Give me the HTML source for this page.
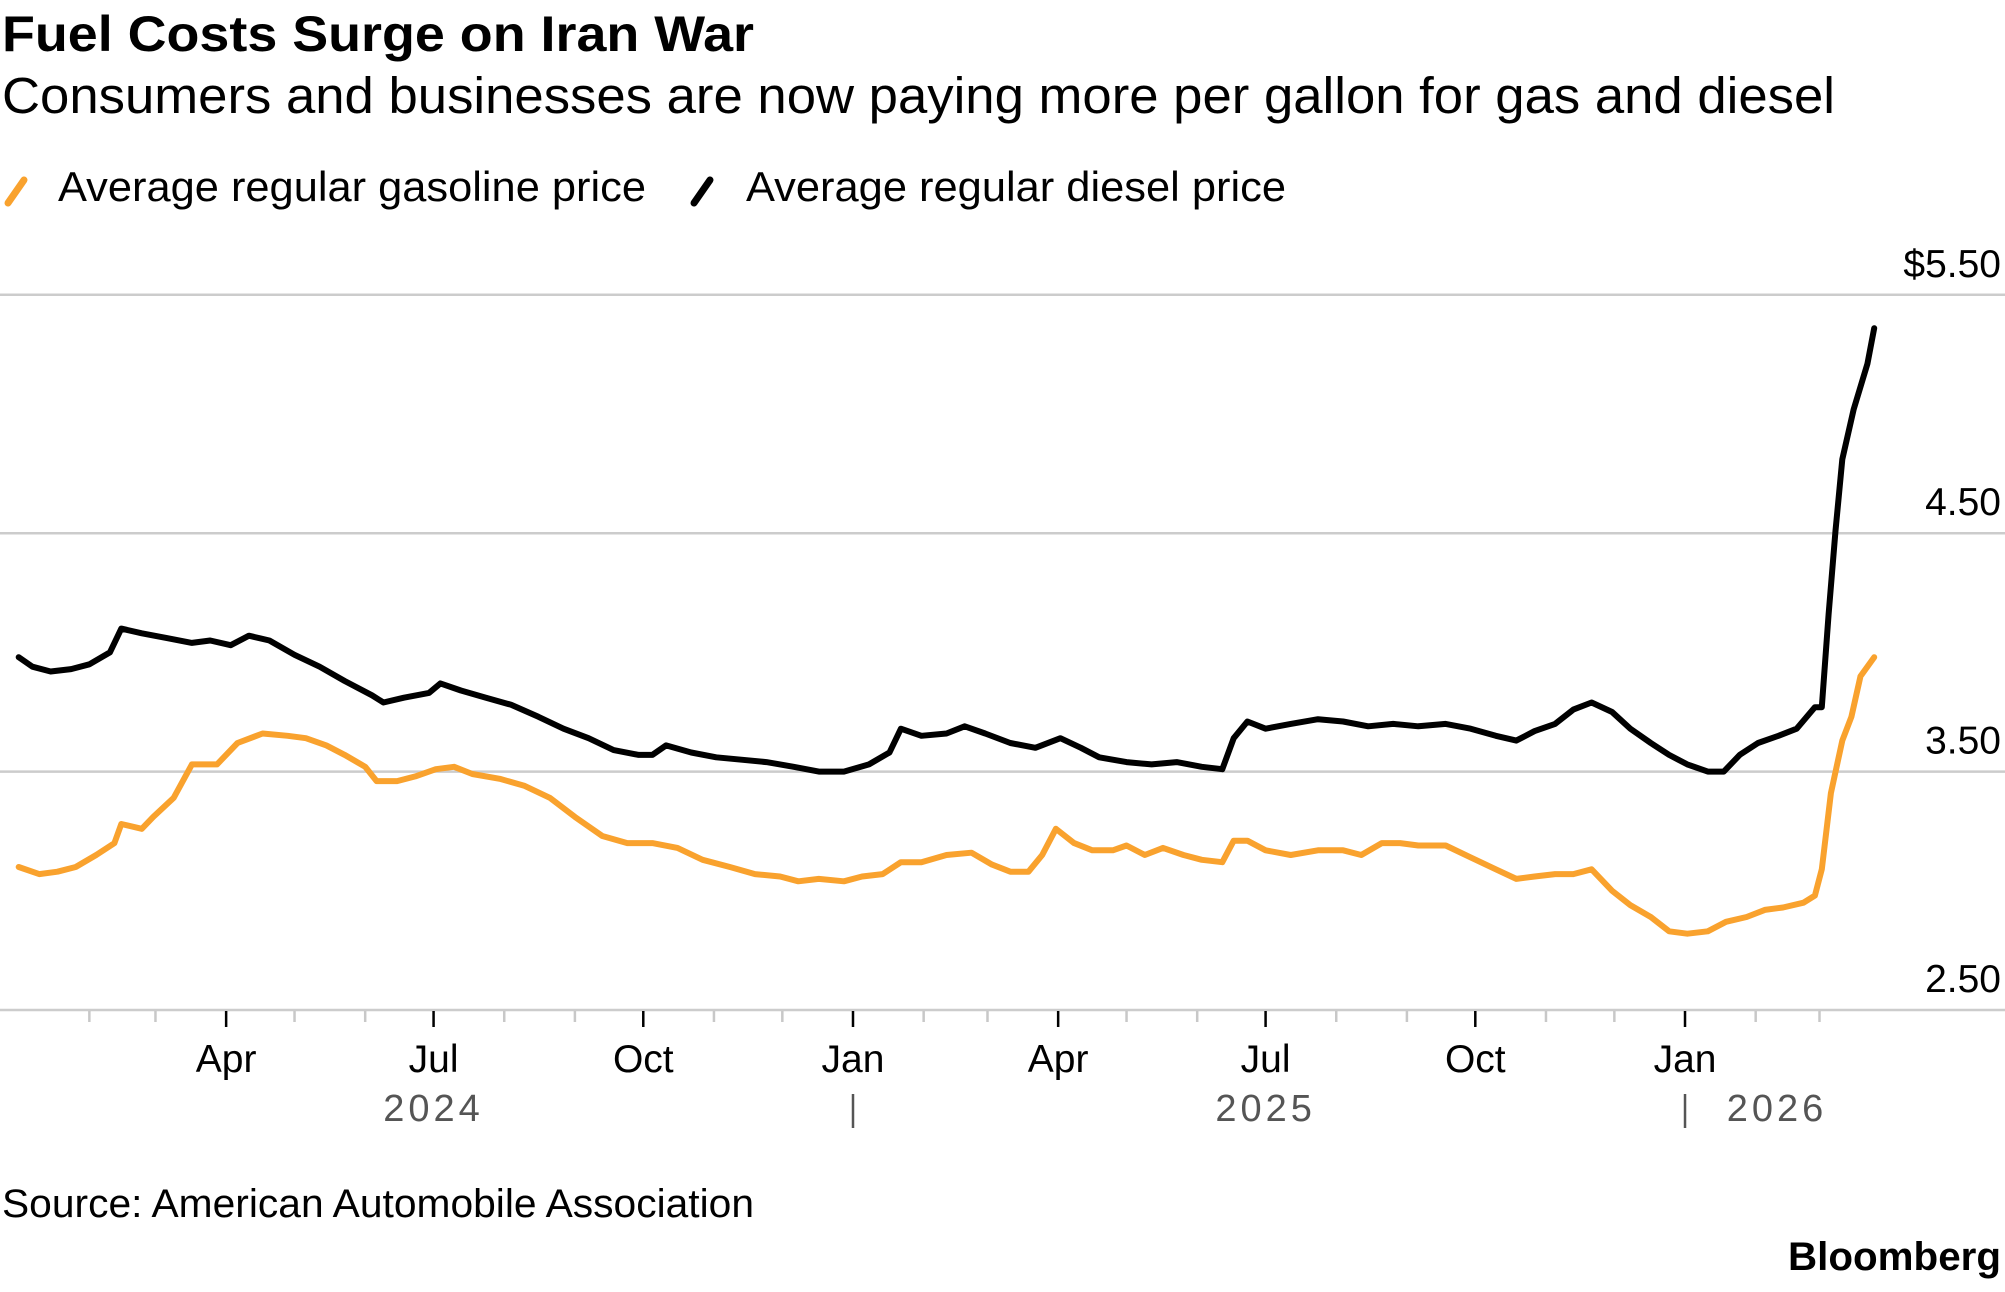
<!DOCTYPE html>
<html><head><meta charset="utf-8"><style>
body{margin:0;background:#fff;width:2005px;height:1287px;overflow:hidden;font-family:"Liberation Sans",sans-serif;}
</style></head><body>
<svg width="2005" height="1287" xmlns="http://www.w3.org/2000/svg" font-family="Liberation Sans, sans-serif">
<text x="2" y="51" font-size="50" font-weight="bold" fill="#000" textLength="752" lengthAdjust="spacingAndGlyphs">Fuel Costs Surge on Iran War</text>
<text x="2" y="113" font-size="51" fill="#000" textLength="1833" lengthAdjust="spacingAndGlyphs">Consumers and businesses are now paying more per gallon for gas and diesel</text>
<g>
<line x1="8" y1="203" x2="24" y2="180" stroke="#f9a22e" stroke-width="7" stroke-linecap="round"/>
<text x="58" y="201" font-size="42" fill="#000" textLength="588" lengthAdjust="spacingAndGlyphs">Average regular gasoline price</text>
<line x1="694" y1="203" x2="710" y2="180" stroke="#000" stroke-width="7" stroke-linecap="round"/>
<text x="746" y="201" font-size="42" fill="#000" textLength="540" lengthAdjust="spacingAndGlyphs">Average regular diesel price</text>
</g>
<g id="grid"></g>
<g id="xaxis"></g>
<g id="series"></g>
<text x="2" y="1217" font-size="40" fill="#000" textLength="752" lengthAdjust="spacingAndGlyphs">Source: American Automobile Association</text>
<text x="2001" y="1270" font-size="40" font-weight="bold" fill="#000" text-anchor="end" textLength="213" lengthAdjust="spacingAndGlyphs">Bloomberg</text>
</svg>
<script>
const yTicks=[2.5,3.5,4.5,5.5];
const yTickLabels=["2.50","3.50","4.50","$5.50"];
const dieselDays=[0,6,14,23,31,40,45,54,65,76,84,93,101,110,121,132,143,155,160,169,180,185,194,205,216,228,239,250,261,272,278,284,295,306,317,328,340,351,362,373,382,387,396,407,415,424,435,446,457,466,474,486,497,508,519,528,533,539,547,558,570,581,592,603,614,626,637,648,657,665,674,682,690,699,707,716,724,732,741,748,755,763,772,780,788,791,794,797,800,805,811,814];
const dieselPrices=[3.98,3.94,3.92,3.93,3.95,4.00,4.10,4.08,4.06,4.04,4.05,4.03,4.07,4.05,3.99,3.94,3.88,3.82,3.79,3.81,3.83,3.87,3.84,3.81,3.78,3.73,3.68,3.64,3.59,3.57,3.57,3.61,3.58,3.56,3.55,3.54,3.52,3.50,3.50,3.53,3.58,3.68,3.65,3.66,3.69,3.66,3.62,3.60,3.64,3.60,3.56,3.54,3.53,3.54,3.52,3.51,3.64,3.71,3.68,3.70,3.72,3.71,3.69,3.70,3.69,3.70,3.68,3.65,3.63,3.67,3.70,3.76,3.79,3.75,3.68,3.62,3.57,3.53,3.50,3.50,3.57,3.62,3.65,3.68,3.77,3.77,4.16,4.51,4.81,5.02,5.21,5.36];
const gasDays=[0,9,17,25,34,42,45,54,59,68,76,87,96,107,118,126,135,143,152,157,166,174,183,191,199,211,222,233,244,256,267,278,289,300,312,323,334,342,351,362,370,379,387,396,407,418,427,435,443,449,455,463,471,480,486,494,502,511,519,528,533,539,547,558,570,581,589,598,606,614,626,637,648,657,665,674,682,690,699,707,716,724,732,741,749,758,766,774,783,788,791,795,800,804,808,814];
const gasPrices=[3.10,3.07,3.08,3.10,3.15,3.20,3.28,3.26,3.31,3.39,3.53,3.53,3.62,3.66,3.65,3.64,3.61,3.57,3.52,3.46,3.46,3.48,3.51,3.52,3.49,3.47,3.44,3.39,3.31,3.23,3.20,3.20,3.18,3.13,3.10,3.07,3.06,3.04,3.05,3.04,3.06,3.07,3.12,3.12,3.15,3.16,3.11,3.08,3.08,3.15,3.26,3.20,3.17,3.17,3.19,3.15,3.18,3.15,3.13,3.12,3.21,3.21,3.17,3.15,3.17,3.17,3.15,3.20,3.20,3.19,3.19,3.14,3.09,3.05,3.06,3.07,3.07,3.09,3.00,2.94,2.89,2.83,2.82,2.83,2.87,2.89,2.92,2.93,2.95,2.98,3.09,3.41,3.63,3.73,3.90,3.98];
const monthLabels=["Apr","Jul","Oct","Jan","Apr","Jul","Oct","Jan"];
const yearLabels=["2024","2025","2026"];

const NS="http://www.w3.org/2000/svg";
const X0=18.7, PXD=2.2795;
const base=Date.UTC(2024,0,1);
function xs(day){return X0+day*PXD;}
function xDate(y,m){return xs((Date.UTC(y,m,1)-base)/86400000);}
function ys(p){return 1010-(p-2.5)*238.4;}
function mk(tag,attrs,parent){const e=document.createElementNS(NS,tag);for(const k in attrs)e.setAttribute(k,attrs[k]);parent.appendChild(e);return e;}

const grid=document.getElementById('grid');
yTicks.forEach((v,i)=>{
  const l=mk('line',{x1:0,x2:2005,y1:ys(v),y2:ys(v),stroke:'#cccccc','stroke-width':2.5},grid);
  
  
  const t=mk('text',{x:2001,y:ys(v)-18,'font-size':39,'text-anchor':'end',fill:'#000'},grid);
  t.textContent=yTickLabels[i];
  
  
});

const xa=document.getElementById('xaxis');
let qi=0;
for(let y=2024;y<=2026;y++){for(let m=0;m<12;m++){
  if(y===2024&&m===0)continue;
  if(y===2026&&m>2)break;
  const x=xDate(y,m);
  const major=m%3===0;
  const tk=mk('line',{x1:x,x2:x,y1:1011,y2:major?1027:1022,stroke:major?'#000':'#c8c8c8','stroke-width':2.5},xa);
  
  
  if(major){
    const t=mk('text',{x:x,y:1072,'font-size':39,'text-anchor':'middle',fill:'#000'},xa);
    t.textContent=monthLabels[qi++];
    
    
  }
}}
const yrX=[xDate(2024,6),xDate(2025,6),1777];
yearLabels.forEach((yl,i)=>{
  const t=mk('text',{x:yrX[i],y:1121,'font-size':38,'text-anchor':'middle',fill:'#555','letter-spacing':'4'},xa);
  t.textContent=yl;
  
  
});
[xDate(2025,0),xDate(2026,0)].forEach(x=>{
  const s=mk('line',{x1:x,x2:x,y1:1094,y2:1128,stroke:'#555','stroke-width':2.5},xa);
  
  
});

const sg=document.getElementById('series');
function drawLine(days,prices,color,name){
  const d=days.map((dd,i)=>(i?'L':'M')+xs(dd).toFixed(1)+','+ys(prices[i]).toFixed(1)).join('');
  const p=mk('path',{d:d,fill:'none',stroke:color,'stroke-width':6,'stroke-linejoin':'round','stroke-linecap':'round'},sg);
  
  
}
drawLine(gasDays,gasPrices,'#f9a22e','gasoline-line');
drawLine(dieselDays,dieselPrices,'#000000','diesel-line');
</script>
</body></html>
